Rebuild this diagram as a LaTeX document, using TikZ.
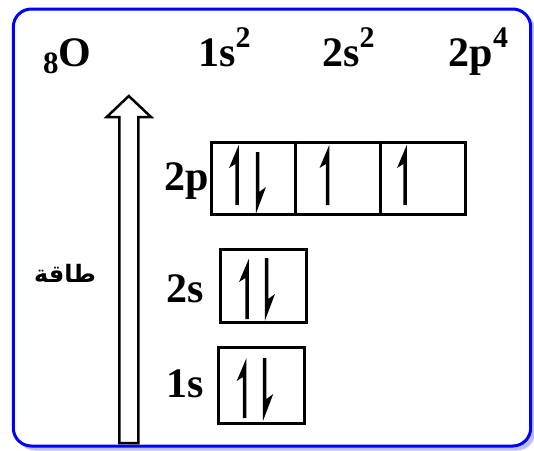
\documentclass[tikz,border=0pt]{standalone}
\usepackage{fontspec}
\setmainfont{Liberation Serif}
\newfontfamily\arabicfont[Script=Arabic]{DejaVu Sans}
\TeXXeTstate=1
\usetikzlibrary{calc}
\definecolor{bord}{RGB}{0,0,255}
\definecolor{shad}{RGB}{190,190,250}
\newcommand\supf{\fontsize{30}{30}\selectfont}
\newcommand\subf{\fontsize{31}{31}\selectfont}
\newcommand\elecup[3]{\fill (#1+1.75,#3) -- (#1+1.75,#2) -- (#1-8,#2+23) -- (#1-1.75,#2+19) -- (#1-1.75,#3) -- cycle;}
\newcommand\elecdn[3]{\fill (#1-1.75,#2) -- (#1-1.75,#3) -- (#1+8.5,#3-27) -- (#1+1.75,#3-22) -- (#1+1.75,#2) -- cycle;}
\begin{document}
\begin{tikzpicture}[x=1pt,y=-1pt,
  hdr/.style={inner sep=0pt, font=\fontsize{42}{42}\selectfont\bfseries},
  lbl/.style={inner sep=0pt, font=\fontsize{42}{42}\selectfont\bfseries},
  orb/.style={draw=black, line width=3pt, inner sep=0pt, fill=white},
  orbline/.style={draw=black, line width=3pt},
  ar/.style={inner sep=0pt, font=\fontsize{24}{24}\arabicfont\bfseries}]
\useasboundingbox (0,0) rectangle (534,450);
\clip (0,0) rectangle (534,450);
\fill[white] (0,0) rectangle (534,450);
% frame with shadow
\fill[shad, rounded corners=18pt] (17,12) rectangle (535,450.5);
\draw[bord, line width=3pt, fill=white, rounded corners=18pt] (13.3,9) rectangle (530.7,446);
% header
\node[hdr, anchor=base west] (hO) at (43,66.4) {\raisebox{-7pt}{\subf 8}O};
\node[hdr, anchor=base west] (h1s) at (198,66.4) {1s\raisebox{18.5pt}{\supf 2}};
\node[hdr, anchor=base west] (h2s) at (322,66.4) {2s\raisebox{18.5pt}{\supf 2}};
\node[hdr, anchor=base west] (h2p) at (448.5,66.4) {2p\raisebox{18.5pt}{\supf 4}};
% energy arrow
\draw[line width=2.5pt, fill=white] (119.3,443) -- (119.3,117) -- (106.7,117) -- (128.8,96) -- (151,117) -- (138.3,117) -- (138.3,443) -- cycle;
\coordinate (arrowtip) at (128.8,96);
\node[ar] (energy) at (65,273) {\beginR طاقة\endR};
% orbital boxes
\node[orb, minimum width=254pt, minimum height=72pt] (p2) at (338,178) {};
\draw[orbline] ($(p2.north west)!1/3!(p2.north east)$) -- ($(p2.south west)!1/3!(p2.south east)$);
\draw[orbline] ($(p2.north west)!2/3!(p2.north east)$) -- ($(p2.south west)!2/3!(p2.south east)$);
\node[orb, minimum width=86pt, minimum height=73pt] (s2) at (263,285.5) {};
\node[orb, minimum width=86pt, minimum height=76pt] (s1) at (261,385) {};
% labels
\node[lbl, anchor=base east] (l2p) at (209,190) {2p};
\node[lbl, anchor=base east] (l2s) at (204,302) {2s};
\node[lbl, anchor=base east] (l1s) at (204,397) {1s};
% electrons
\elecup{237}{145}{205}
\elecdn{257.5}{152}{214}
\elecup{327.5}{145}{205}
\elecup{405}{145}{205}
\elecup{247}{259}{319}
\elecdn{266.5}{258}{321}
\elecup{244.7}{358}{418}
\elecdn{264.7}{358}{421}
\end{tikzpicture}
\end{document}
